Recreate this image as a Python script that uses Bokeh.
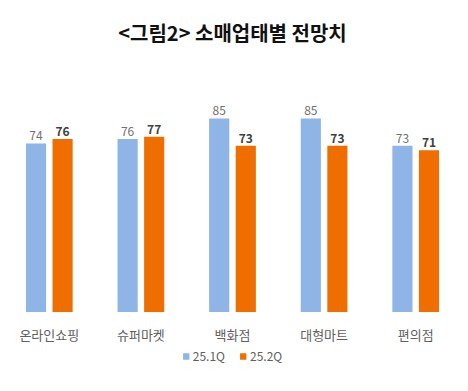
from bokeh.plotting import figure
from bokeh.models import ColumnDataSource, FactorRange, Range1d, Legend, LegendItem, LabelSet
from bokeh.core.properties import value
from bokeh.transform import dodge
from bokeh.embed import file_html
from bokeh.resources import INLINE

categories = ["온라인쇼핑", "슈퍼마켓", "백화점", "대형마트", "편의점"]
series_names = ["25.1Q", "25.2Q"]
q1_values = [74, 76, 85, 85, 73]
q2_values = [76, 77, 73, 73, 71]

blue = "#8FB4E6"
orange = "#EE6F00"
FONT = "Noto Sans CJK KR"

src = ColumnDataSource(dict(
    cat=categories, q1=q1_values, q2=q2_values, base=[0] * len(categories),
    q1_lab=[str(v) for v in q1_values], q2_lab=[str(v) for v in q2_values],
))

p = figure(frame_width=458, frame_height=320, x_range=FactorRange(*categories, range_padding=0),
           y_range=Range1d(-30.5, 110), output_backend="svg", toolbar_location=None,
           min_border_left=3, min_border_right=7, min_border_top=0, min_border_bottom=0,
           title="<그림2> 소매업태별 전망치")

p.title.text_font = FONT
p.title.text_font_size = "20px"
p.title.text_font_style = "bold"
p.title.text_color = "#111111"
p.title.align = "center"
p.title.text_line_height = 0.6
p.title.standoff = 30

off = 0.145
w = 0.22
r1 = p.vbar(x=dodge("cat", -off, range=p.x_range), top="q1", bottom=0, width=w, source=src,
            fill_color=blue, line_color=None)
r2 = p.vbar(x=dodge("cat", off, range=p.x_range), top="q2", bottom=0, width=w, source=src,
            fill_color=orange, line_color=None)

l1 = LabelSet(x=dodge("cat", -off, range=p.x_range), y="q1", text="q1_lab", source=src,
              text_align="center", text_baseline="bottom", y_offset=3,
              text_font=value(FONT), text_font_size=value("12px"), text_color="#707070")
l2 = LabelSet(x=dodge("cat", off, range=p.x_range), y="q2", text="q2_lab", source=src,
              text_align="center", text_baseline="bottom", y_offset=3,
              text_font=value(FONT), text_font_size=value("12px"), text_color="#404040",
              text_font_style="bold")
cat_labels = LabelSet(x="cat", y="base", text="cat", source=src,
                      text_align="center", text_baseline="middle", y_offset=-22,
                      text_font=value(FONT), text_font_size=value("13px"), text_color="#606060")
p.add_layout(l1)
p.add_layout(l2)
p.add_layout(cat_labels)

p.xaxis.visible = False
p.yaxis.visible = False
p.xgrid.visible = False
p.ygrid.visible = False
p.outline_line_color = None
p.background_fill_color = "white"
p.border_fill_color = "white"

legend = Legend(items=[LegendItem(label=series_names[0], renderers=[r1]),
                       LegendItem(label=series_names[1], renderers=[r2])],
                orientation="horizontal", location="bottom_center",
                label_text_font=FONT, label_text_font_size="12px", label_text_color="#606060",
                glyph_width=8, glyph_height=8, label_standoff=3, spacing=14, label_height=14,
                border_line_color=None, background_fill_alpha=0, margin=17, padding=0)
p.add_layout(legend)

open("out.html", "w").write(file_html(p, INLINE))
